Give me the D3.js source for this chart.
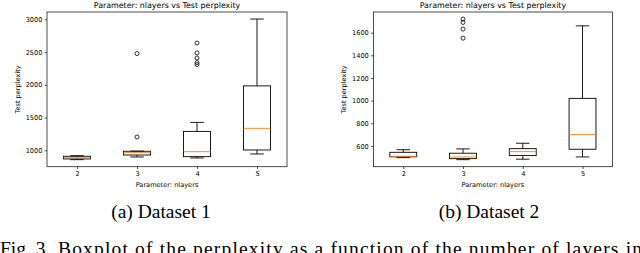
<!DOCTYPE html>
<html><head><meta charset="utf-8">
<script src="https://cdn.jsdelivr.net/npm/d3@7"></script>
<style>body{margin:0;background:#fff}svg{display:block}</style>
</head><body>
<script>
// ---- data ----
const categories = ["2", "3", "4", "5"];
// Dataset 1 boxplot summary: [whiskerLow, q1, median, q3, whiskerHigh]
const ds1Stats = [
  [857, 868, 887, 909, 918],
  [898, 928, 968, 985, 988],
  [883, 903, 979, 1289, 1426],
  [944, 1005, 1335, 1984, 3005]
];
const ds1Outliers = [[], [1203, 2477], [2310, 2340, 2410, 2487, 2639], []];
const ds1Ticks = [1000, 1500, 2000, 2500, 3000];
// Dataset 2
const ds2Stats = [
  [497, 504, 509, 544, 567],
  [479, 488, 503, 536, 574],
  [483, 515, 550, 576, 624],
  [503, 571, 700, 1020, 1660]
];
const ds2Outliers = [[], [1551, 1631, 1690, 1720], [], []];
const ds2Ticks = [600, 800, 1000, 1200, 1400, 1600];
const titleText = "Parameter: nlayers vs Test perplexity";
const xLabel = "Parameter: nlayers";
const yLabel = "Test perplexity";
const captions = ["(a) Dataset 1", "(b) Dataset 2"];
const figCaptionA = "Fig. 3.";
const figCaptionB = "Boxplot of the perplexity as a function of the number of layers in";

const W = 640, H = 253;
const svg = d3.select("body").append("svg").attr("width", W).attr("height", H);
const FONT = "DejaVu Sans, sans-serif";

function panel(x0, x1, y0, y1, stats, outliers, ticks, ylabX, caption, capX) {
  const g = svg.append("g");
  const allVals = stats.flat().concat(outliers.flat());
  const [mn, mx] = d3.extent(allVals);
  const pad = (mx - mn) * 0.05;
  const y = d3.scaleLinear().domain([mn - pad, mx + pad]).range([y1, y0]);
  const x = d3.scaleLinear().domain([0.5, categories.length + 0.5]).range([x0, x1]);
  const pos = categories.map((c, i) => i + 1);
  const bw = 0.45 / 2, cw = 0.225 / 2;

  // axes
  const xAxis = d3.axisBottom(x).tickValues(pos).tickFormat((d, i) => categories[i]).tickSize(2.3).tickPadding(2.3);
  const yAxis = d3.axisLeft(y).tickValues(ticks).tickFormat(d3.format("d")).tickSize(2.3).tickPadding(2.3);
  const gx = g.append("g").attr("transform", `translate(0,${y1})`).call(xAxis);
  const gy = g.append("g").attr("transform", `translate(${x0},0)`).call(yAxis);
  [gx, gy].forEach(a => {
    a.select(".domain").remove();
    a.selectAll("line").attr("stroke", "#000").attr("stroke-width", 0.7);
    a.selectAll("text").attr("font-family", FONT).attr("font-size", 6.6).attr("fill", "#000");
  });
  // frame
  g.append("rect").attr("x", x0).attr("y", y0).attr("width", x1 - x0).attr("height", y1 - y0)
    .attr("fill", "none").attr("stroke", "#222").attr("stroke-width", 0.8);

  const boxes = g.selectAll(".box").data(stats).join("g");
  boxes.each(function (s, i) {
    const b = d3.select(this), p = i + 1;
    const ln = (xa, ya, xb, yb, col) => b.append("line").attr("x1", xa).attr("y1", ya).attr("x2", xb).attr("y2", yb)
      .attr("stroke", col || "#000").attr("stroke-width", 0.9);
    // whiskers
    ln(x(p), y(s[0]), x(p), y(s[1]));
    ln(x(p), y(s[3]), x(p), y(s[4]));
    // caps
    ln(x(p - cw), y(s[0]), x(p + cw), y(s[0]));
    ln(x(p - cw), y(s[4]), x(p + cw), y(s[4]));
    // box
    b.append("rect").attr("x", x(p - bw)).attr("y", y(s[3])).attr("width", x(p + bw) - x(p - bw))
      .attr("height", y(s[1]) - y(s[3])).attr("fill", "none").attr("stroke", "#000").attr("stroke-width", 0.9);
    // median
    ln(x(p - bw), y(s[2]), x(p + bw), y(s[2]), "#ff7f0e");
    // outliers
    b.selectAll("circle").data(outliers[i]).join("circle")
      .attr("cx", x(p)).attr("cy", d => y(d)).attr("r", 2)
      .attr("fill", "none").attr("stroke", "#000").attr("stroke-width", 0.8);
  });

  // title
  g.append("text").attr("x", (x0 + x1) / 2).attr("y", y0 - 4).attr("text-anchor", "middle")
    .attr("font-family", FONT).attr("font-size", 7.9).text(titleText);
  g.append("text").attr("x", (x0 + x1) / 2).attr("y", y1 + 20.5).attr("text-anchor", "middle")
    .attr("font-family", FONT).attr("font-size", 6.6).text(xLabel);
  g.append("text").attr("transform", `translate(${ylabX},${(y0 + y1) / 2}) rotate(-90)`)
    .attr("text-anchor", "middle").attr("font-family", FONT).attr("font-size", 6.6).text(yLabel);
  // caption
  svg.append("text").attr("x", capX).attr("y", 217.5).attr("text-anchor", "middle")
    .attr("font-family", "Liberation Serif, Times New Roman, serif").attr("font-size", 19.5).text(caption);
}

panel(47, 287, 12, 166.7, ds1Stats, ds1Outliers, ds1Ticks, 19.5, captions[0], 161);
panel(373.4, 612.4, 12, 166.7, ds2Stats, ds2Outliers, ds2Ticks, 345.5, captions[1], 489);

const serif = "Liberation Serif, Times New Roman, serif";
svg.append("text").attr("x", 0).attr("y", 255).attr("font-family", serif).attr("font-size", 19.5).text(figCaptionA);
svg.append("text").attr("x", 58).attr("y", 255).attr("font-family", serif).attr("font-size", 19.5)
  .attr("textLength", 584).attr("lengthAdjust", "spacing").text(figCaptionB);
</script>
</body></html>
